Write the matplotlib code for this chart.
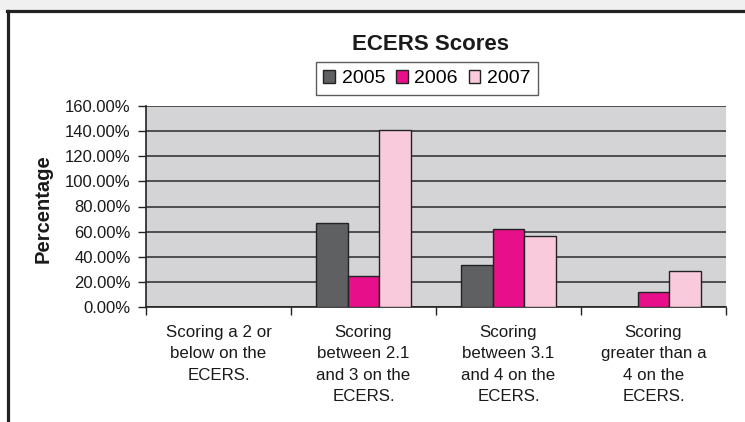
"""
plot.py - ECERS scores grouped bar chart (2005-2007), saved to out.png.
"""

import matplotlib
matplotlib.use("Agg")
import matplotlib.pyplot as plt
from matplotlib.patches import Rectangle
from matplotlib.lines import Line2D
from matplotlib.ticker import FuncFormatter
import numpy as np

# ── Data ─────────────────────────────────────────────────────────────────────
categories = [
    "Scoring a 2 or\nbelow on the\nECERS.",
    "Scoring\nbetween 2.1\nand 3 on the\nECERS.",
    "Scoring\nbetween 3.1\nand 4 on the\nECERS.",
    "Scoring\ngreater than a\n4 on the\nECERS.",
]
years = ["2005", "2006", "2007"]
scores_2005 = [0.0, 66.7, 33.3, 0.0]
scores_2006 = [0.0, 24.5, 62.0, 12.0]
scores_2007 = [0.0, 140.5, 56.5, 28.5]
y_ticks = [0, 20, 40, 60, 80, 100, 120, 140, 160]

# ── Style ────────────────────────────────────────────────────────────────────
COLORS   = ["#5f6062", "#e8108a", "#f8cadb"]
PLOT_BG  = "#d4d4d6"
BAR_W    = 0.22
W, H     = 745, 422

plt.rcParams["font.family"] = ["Liberation Sans", "DejaVu Sans"]

fig = plt.figure(figsize=(W / 100, H / 100), dpi=100)
fig.patch.set_facecolor("white")

# light strip above the chart frame, plus the frame edges (top + left)
fig.add_artist(Rectangle((0, 1 - 9.5 / H), 1, 9.5 / H, transform=fig.transFigure,
                         facecolor="#f0f0f0", edgecolor="none", zorder=0))
fig.add_artist(Line2D([7.5 / W, 1], [1 - 10.8 / H, 1 - 10.8 / H],
                      transform=fig.transFigure, color="#222222", lw=2.3))
fig.add_artist(Line2D([8.3 / W, 8.3 / W], [0, 1 - 10.8 / H],
                      transform=fig.transFigure, color="#222222", lw=2.3))

ax = fig.add_axes([146 / W, 1 - 307 / H, (726 - 146) / W, (307 - 106) / H])
ax.set_facecolor(PLOT_BG)

x = np.arange(len(categories))
series = [scores_2005, scores_2006, scores_2007]
for i, (vals, year) in enumerate(zip(series, years)):
    ax.bar(x + (i - 1) * BAR_W, vals, BAR_W, color=COLORS[i],
           edgecolor="#222222", linewidth=1.0, label=year, zorder=3)

ax.set_xlim(-0.5, len(categories) - 0.5)
ax.set_ylim(0, 160)
ax.set_yticks(y_ticks)
ax.yaxis.set_major_formatter(FuncFormatter(lambda v, _: f"{v:.2f}%"))
ax.yaxis.grid(True, color="#2a2a2a", linewidth=1.1, zorder=1)
ax.set_axisbelow(True)

# category boundaries get tick marks, labels sit at the centres
ax.set_xticks(np.arange(-0.5, len(categories), 1.0))
ax.set_xticklabels([])
ax.set_xticks(x, minor=True)
ax.set_xticklabels(categories, minor=True, fontsize=12.2, linespacing=1.52,
                   color="#1a1a1a")
ax.tick_params(axis="x", which="minor", length=0, pad=13)
ax.tick_params(axis="x", which="major", length=6, width=1.0, color="#222222")
ax.tick_params(axis="y", length=5.5, width=1.0, color="#222222",
               labelsize=12, pad=5.5, labelcolor="#1a1a1a")

for side in ("top", "right"):
    ax.spines[side].set_visible(False)
for side in ("left", "bottom"):
    ax.spines[side].set_color("#222222")
    ax.spines[side].set_linewidth(1.2)

fig.text(431 / W, 1 - 44 / H, "ECERS Scores", ha="center", va="center",
         fontsize=16, fontweight="bold", color="#1a1a1a")
fig.text(43 / W, 1 - 209 / H, "Percentage", ha="center", va="center",
         rotation=90, fontsize=14.5, fontweight="bold", color="#1a1a1a")

leg = fig.legend(loc="center", bbox_to_anchor=(427 / W, 1 - 78.5 / H),
                 ncol=3, fontsize=14, frameon=True, fancybox=False,
                 handlelength=0.6, handleheight=0.7, handletextpad=0.35,
                 columnspacing=0.55, borderpad=0.4, borderaxespad=0)
leg.get_frame().set_edgecolor("#333333")
leg.get_frame().set_linewidth(1.0)

fig.savefig("out.png", dpi=100)
